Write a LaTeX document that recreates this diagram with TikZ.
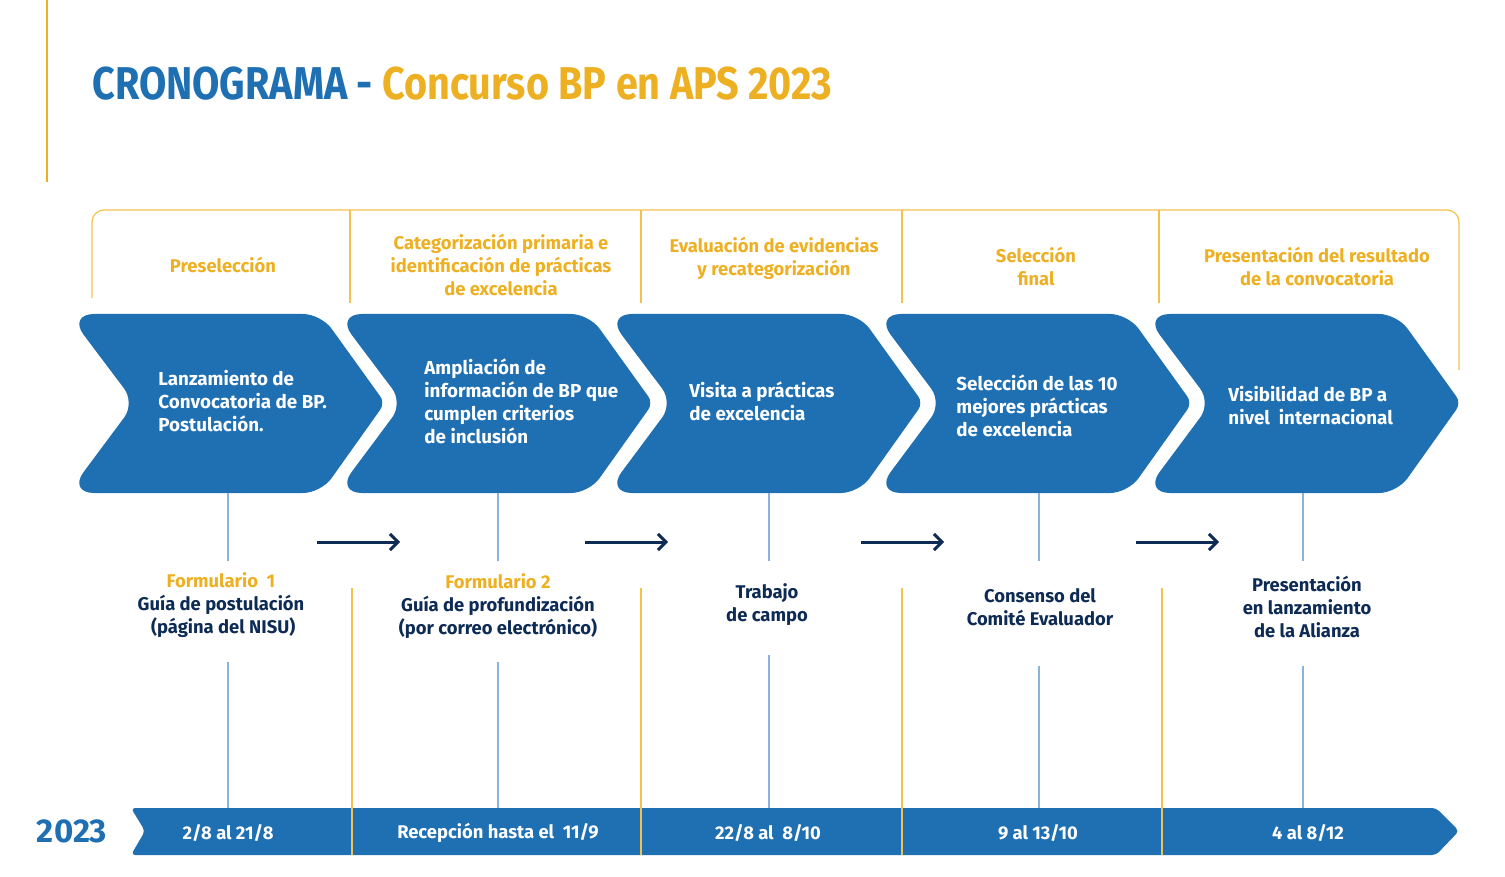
\documentclass[tikz,border=0pt]{standalone}
\usepackage{fontspec}
\setmainfont{Fira Sans}
\newfontfamily\condfont[FakeStretch=0.86]{Fira Sans}
\usetikzlibrary{arrows.meta}

\definecolor{bpblue}{HTML}{1F6FB3}
\definecolor{bpgold}{HTML}{EDB022}
\definecolor{bpnavy}{HTML}{0D2B55}
\definecolor{ticklight}{HTML}{8AB4DD}
\definecolor{framegold}{HTML}{F2C14E}

% chevron with its left top corner at x=#1
\newcommand{\bpchevron}[1]{%
  \fill[bpblue] (#1+150,314) [rounded corners=9pt] -- (#1+253,314) [rounded corners=4pt] -- (#1+317,403)
    [rounded corners=9pt] -- (#1+253,493) [rounded corners=13pt] -- (#1,493) [rounded corners=9pt] -- (#1+67,403)
    [rounded corners=13pt] -- (#1,314) -- cycle;}

\begin{document}
\begin{tikzpicture}[x=0.5pt,y=-0.5pt,>={Straight Barb[length=4pt,width=8pt]},
  phase/.style={text=bpgold,font=\bfseries\fontsize{9.2}{11.5}\selectfont,align=center,inner sep=0pt},
  chevtext/.style={text=white,font=\bfseries\fontsize{9.4}{11.5}\selectfont,align=left,anchor=west,inner sep=0pt},
  lowtext/.style={text=bpnavy,font=\bfseries\fontsize{9.2}{11.5}\selectfont,align=center,inner sep=0pt},
  datetext/.style={text=white,font=\bfseries\fontsize{9.2}{11.5}\selectfont,inner sep=0pt},
  frameline/.style={framegold,line width=0.6pt},
  tick/.style={ticklight,line width=0.7pt},
  flow/.style={->,bpnavy,line width=1.5pt}]
  \useasboundingbox (0,0) rectangle (1505,877);

  % title
  \draw[bpgold,line width=1.2pt] (47,0) -- (47,182);
  \node[anchor=base west,inner sep=0pt,font=\condfont\bfseries\fontsize{23}{27}\selectfont] (title) at (92,100)
    {\textcolor{bpblue}{CRONOGRAMA -} \textcolor{bpgold}{Concurso BP en APS 2023}};

  % header frame
  \draw[frameline,rounded corners=6pt] (92,298) -- (92,210) -- (1459,210) -- (1459,370);
  \draw[frameline] (350,210) -- (350,303);
  \draw[frameline] (641,210) -- (641,303);
  \draw[frameline] (902,210) -- (902,303);
  \draw[frameline] (1159,210) -- (1159,303);
  \node[phase] (p1) at (223,265) {Preselección};
  \node[phase] (p2) at (501,265) {Categorización primaria e\\identificación de prácticas\\de excelencia};
  \node[phase] (p3) at (774,258) {Evaluación de evidencias\\y recategorización};
  \node[phase] (p4) at (1036,266) {Selección\\final};
  \node[phase] (p5) at (1317,266) {Presentación del resultado\\de la convocatoria};

  % chevrons
  \bpchevron{68}
  \bpchevron{336}
  \bpchevron{606}
  \bpchevron{875}
  \bpchevron{1144}
  \node[chevtext] (ch1) at (158,401) {Lanzamiento de\\Convocatoria de BP.\\Postulación.};
  \node[chevtext] (ch2) at (424,401) {Ampliación de\\información de BP que\\cumplen criterios\\de inclusión};
  \node[chevtext] (ch3) at (689,401) {Visita a prácticas\\de excelencia};
  \node[chevtext] (ch4) at (956,406) {Selección de las 10\\mejores prácticas\\de excelencia};
  \node[chevtext] (ch5) at (1228,406) {Visibilidad de BP a\\nivel\ \ internacional};

  % bottom bar
  \fill[bpblue,rounded corners=2pt] (131,808) -- (1436,808) -- (1459,831) -- (1436,855) -- (131,855) -- (145,831) -- cycle;
  \node[text=bpblue,inner sep=0pt,font=\bfseries\fontsize{16.5}{20}\selectfont] (year) at (72,831) {2023};
  \node[datetext] (d1) at (228,833) {2/8 al 21/8};
  \node[datetext] (d2) at (498,833) {Recepción hasta el\ \ 11/9};
  \node[datetext] (d3) at (768,833) {22/8 al\ \ 8/10};
  \node[datetext] (d4) at (1038,833) {9 al 13/10};
  \node[datetext] (d5) at (1308,833) {4 al 8/12};

  % lower texts
  \node[lowtext] (lo1) at (221,605) {\textcolor{bpgold}{Formulario\ \ 1}\\Guía de postulación\\\ (página del NISU)};
  \node[lowtext] (lo2) at (498,606) {\textcolor{bpgold}{Formulario 2}\\Guía de profundización\\(por correo electrónico)};
  \node[lowtext] (lo3) at (767,605) {Trabajo\\de campo};
  \node[lowtext] (lo4) at (1040,607) {Consenso del\\Comité Evaluador};
  \node[lowtext] (lo5) at (1307,607) {Presentación\\en lanzamiento\\de la Alianza};

  % blue ticks
  \coordinate (a1) at (228,493); \coordinate (b1) at (228,561);
  \coordinate (e1) at (228,662); \coordinate (f1) at (228,808);
  \coordinate (a2) at (498,493); \coordinate (b2) at (498,561);
  \coordinate (e2) at (498,662); \coordinate (f2) at (498,808);
  \coordinate (a3) at (769,493); \coordinate (b3) at (769,561);
  \coordinate (e3) at (769,655); \coordinate (f3) at (769,808);
  \coordinate (a4) at (1039,493); \coordinate (b4) at (1039,561);
  \coordinate (e4) at (1039,666); \coordinate (f4) at (1039,808);
  \coordinate (a5) at (1303,493); \coordinate (b5) at (1303,561);
  \coordinate (e5) at (1303,666); \coordinate (f5) at (1303,808);
  \draw[tick] (a1) -- (b1) (e1) -- (f1);
  \draw[tick] (a2) -- (b2) (e2) -- (f2);
  \draw[tick] (a3) -- (b3) (e3) -- (f3);
  \draw[tick] (a4) -- (b4) (e4) -- (f4);
  \draw[tick] (a5) -- (b5) (e5) -- (f5);

  % gold dividers
  \draw[frameline] (352,588) -- (352,855);
  \draw[frameline] (641,588) -- (641,855);
  \draw[frameline] (902,588) -- (902,855);
  \draw[frameline] (1162,588) -- (1162,855);

  % arrows
  \coordinate (s1) at (317,542); \coordinate (t1) at (400,542);
  \coordinate (s2) at (585,542); \coordinate (t2) at (668,542);
  \coordinate (s3) at (861,542); \coordinate (t3) at (944,542);
  \coordinate (s4) at (1136,542); \coordinate (t4) at (1219,542);
  \draw[flow] (s1) -- (t1);
  \draw[flow] (s2) -- (t2);
  \draw[flow] (s3) -- (t3);
  \draw[flow] (s4) -- (t4);
\end{tikzpicture}
\end{document}
